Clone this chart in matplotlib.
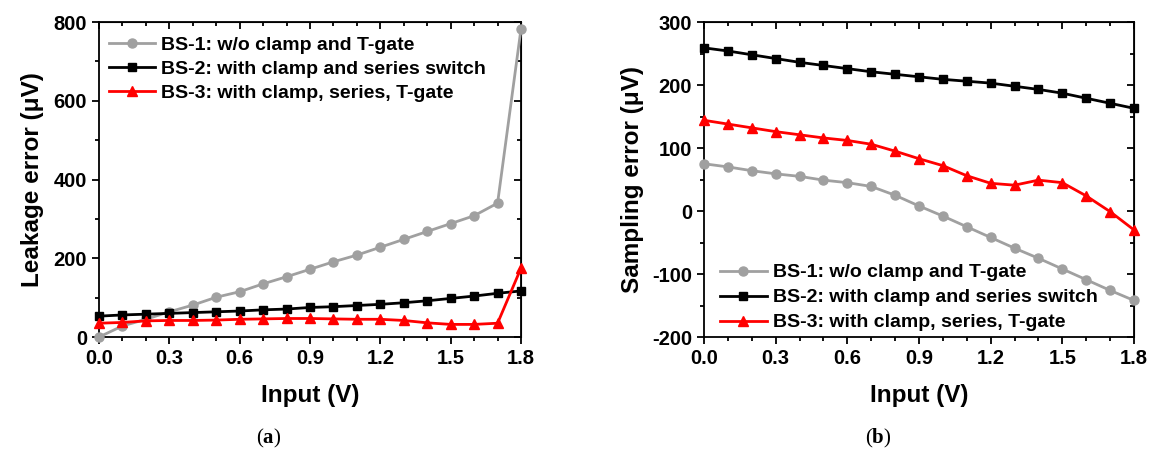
import numpy as np
import matplotlib
matplotlib.use("Agg")
import matplotlib.pyplot as plt
from matplotlib.ticker import MultipleLocator, FormatStrFormatter
from matplotlib.offsetbox import TextArea, HPacker, AnnotationBbox

plt.rcParams['font.family'] = ['Liberation Sans', 'DejaVu Sans']
plt.rcParams['font.weight'] = 'bold'
plt.rcParams['axes.unicode_minus'] = False

x_input = [0.0, 0.1, 0.2, 0.3, 0.4, 0.5, 0.6, 0.7, 0.8, 0.9,
           1.0, 1.1, 1.2, 1.3, 1.4, 1.5, 1.6, 1.7, 1.8]

# (a) Leakage error (uV)
leak_bs1 = [0, 28, 45, 64, 81, 101, 115, 135, 153, 172,
            191, 208, 228, 248, 268, 288, 308, 340, 783]
leak_bs2 = [53, 56, 58, 60, 62, 64, 66, 69, 71, 75,
            77, 80, 83, 87, 92, 98, 104, 111, 117]
leak_bs3 = [35, 37, 41, 42, 42, 43, 45, 46, 47, 47,
            46, 45, 45, 42, 36, 32, 32, 35, 175]

# (b) Sampling error (uV)
samp_bs1 = [75, 70, 64, 59, 55, 49, 45, 39, 25, 8,
            -8, -25, -42, -59, -75, -92, -109, -126, -142]
samp_bs2 = [259, 254, 248, 242, 236, 231, 226, 221, 217, 213,
            209, 206, 203, 198, 193, 187, 179, 171, 163]
samp_bs3 = [144, 138, 132, 126, 121, 116, 112, 106, 95, 83,
            72, 56, 44, 41, 49, 45, 24, -1, -30]

labels = ["BS-1: w/o clamp and T-gate",
          "BS-2: with clamp and series switch",
          "BS-3: with clamp, series, T-gate"]

GRAY = '#a0a0a0'
RED = '#ff0000'
TICK_FS = 14.5
LABEL_FS = 17.5

fig = plt.figure(figsize=(11.55, 4.5), dpi=100)
axA = fig.add_axes([0.0857, 0.2511, 0.3654, 0.70])
axB = fig.add_axes([0.6095, 0.2511, 0.3723, 0.70])


def style(ax):
    for s in ax.spines.values():
        s.set_linewidth(1.3)
    ax.tick_params(which='both', direction='out', width=1.3,
                   labelsize=TICK_FS, top=False, right=False)
    ax.tick_params(which='major', length=5)
    ax.tick_params(which='minor', length=3)
    ax.xaxis.set_major_locator(MultipleLocator(0.3))
    ax.xaxis.set_minor_locator(MultipleLocator(0.1))
    ax.xaxis.set_major_formatter(FormatStrFormatter('%.1f'))
    ax.set_xlim(0, 1.8)
    sx = ax.secondary_xaxis('top')
    sx.xaxis.set_major_locator(MultipleLocator(0.3))
    sx.xaxis.set_minor_locator(MultipleLocator(0.1))
    sx.tick_params(which='both', direction='in', width=1.3, labeltop=False)
    sx.tick_params(which='major', length=5)
    sx.tick_params(which='minor', length=3)
    sy = ax.secondary_yaxis('right')
    sy.yaxis.set_major_locator(ax.yaxis.get_major_locator())
    sy.yaxis.set_minor_locator(ax.yaxis.get_minor_locator())
    sy.tick_params(which='both', direction='in', width=1.3, labelright=False)
    sy.tick_params(which='major', length=5)
    sy.tick_params(which='minor', length=3)
    ax.set_xlabel("Input (V)", fontsize=LABEL_FS, fontweight='bold', labelpad=12)


def plot_series(ax, s1, s2, s3):
    ax.plot(x_input, s1, color=GRAY, marker='o', ms=6.5, lw=2, label=labels[0], clip_on=False, zorder=3)
    ax.plot(x_input, s2, color='black', marker='s', ms=5.5, lw=2, label=labels[1], clip_on=False, zorder=4)
    ax.plot(x_input, s3, color=RED, marker='^', ms=7.5, lw=2, label=labels[2], clip_on=False, zorder=5)


# Panel (a)
plot_series(axA, leak_bs1, leak_bs2, leak_bs3)
axA.set_ylim(0, 800)
axA.yaxis.set_major_locator(MultipleLocator(200))
axA.yaxis.set_minor_locator(MultipleLocator(100))
style(axA)
axA.set_ylabel("Leakage error (\u03bcV)", fontsize=LABEL_FS, fontweight='bold', labelpad=7)
axA.legend(loc='upper left', frameon=False, handlelength=2.4,
           handletextpad=0.3, labelspacing=0.33, borderaxespad=0.1,
           bbox_to_anchor=(0.0, 0.985), prop={'weight': 'bold', 'size': 14})

# Panel (b)
plot_series(axB, samp_bs1, samp_bs2, samp_bs3)
axB.set_ylim(-200, 300)
axB.yaxis.set_major_locator(MultipleLocator(100))
axB.yaxis.set_minor_locator(MultipleLocator(50))
style(axB)
axB.set_ylabel("Sampling error (\u03bcV)", fontsize=LABEL_FS, fontweight='bold', labelpad=6)
axB.legend(loc='lower left', frameon=False, handlelength=2.4,
           handletextpad=0.3, labelspacing=0.38, borderaxespad=0.1,
           bbox_to_anchor=(0.015, -0.013), prop={'weight': 'bold', 'size': 14})


def panel_label(letter, xpix, ypix):
    serif = ['Liberation Serif', 'DejaVu Serif']
    parts = [TextArea("(", textprops=dict(family=serif, fontsize=15, fontweight='normal')),
             TextArea(letter, textprops=dict(family=serif, fontsize=15, fontweight='bold')),
             TextArea(")", textprops=dict(family=serif, fontsize=15, fontweight='normal'))]
    box = HPacker(children=parts, pad=0, sep=0, align='baseline')
    ab = AnnotationBbox(box, (xpix / 1155, 1 - ypix / 450), xycoords='figure fraction',
                        frameon=False, box_alignment=(0.5, 0.5), pad=0)
    fig.add_artist(ab)


panel_label("a", 268, 438)
panel_label("b", 878, 438)

fig.savefig("out.png", dpi=100)
